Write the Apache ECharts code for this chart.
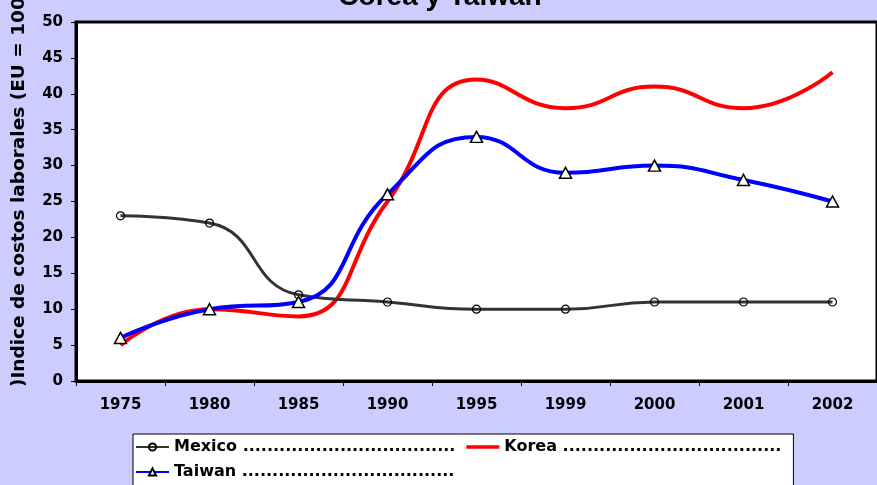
<!DOCTYPE html>
<html>
<head>
<meta charset="utf-8">
<script src="https://cdn.jsdelivr.net/npm/echarts@6/dist/echarts.min.js"></script>
<style>
html,body{margin:0;padding:0;background:#ccccff;}
#chart{width:877px;height:485px;}
</style>
</head>
<body>
<div id="chart"></div>
<script>
const years = ['1975','1980','1985','1990','1995','1999','2000','2001','2002'];
const mexico = [23, 22, 12, 11, 10, 10, 11, 11, 11];
const korea  = [5, 10, 9, 25, 42, 38, 41, 38, 43];
const taiwan = [6, 10, 11, 26, 34, 29, 30, 28, 25];
const names = [
  'Mexico ...................................',
  'Korea ....................................',
  'Taiwan ...................................'
];
const titleText = 'Corea y Taiwan';
const yTitle = ')Indice de costos laborales (EU = 100)';

const chart = echarts.init(document.getElementById('chart'));
const bold = {fontFamily:'DejaVu Sans', fontWeight:'bold', color:'#000'};
chart.setOption({
  backgroundColor:'#ccccff',
  animation:false,
  graphic:[
    {type:'text', x:440, y:-3, style:{text:titleText, font:'bold 28px "Liberation Sans"', fill:'#000', textAlign:'center', textVerticalAlign:'middle'}},
    {type:'text', x:19, y:387, rotation:Math.PI/2, style:{text:yTitle, font:'bold 18.5px "DejaVu Sans"', fill:'#000', textAlign:'left', textVerticalAlign:'middle'}}
  ],
  grid:{left:76, top:22, right:-5, bottom:104, show:true, backgroundColor:'#fff', borderColor:'#000', borderWidth:3},
  legend:{
    left:133, top:434, width:664, orient:'horizontal',
    itemWidth:33, itemHeight:9, itemGap:9,
    padding:[5,10,10,2],
    backgroundColor:'#fff', borderColor:'#000', borderWidth:1,
    textStyle:Object.assign({fontSize:16, lineHeight:16, padding:[0,2,0,0]}, bold),
    data:[
      {name:names[0]},
      {name:names[1], icon:'path://M0,0h33v3.5h-33z', itemStyle:{color:'#ff0000'}},
      {name:names[2]}
    ]
  },
  xAxis:{
    type:'category', data:years, boundaryGap:true,
    axisLine:{lineStyle:{color:'#000', width:3}},
    axisTick:{show:true, length:5, lineStyle:{color:'#000', width:1}},
    axisLabel:Object.assign({fontSize:15, margin:17}, bold),
    splitLine:{show:false}
  },
  yAxis:{
    type:'value', min:0, max:50, interval:5,
    axisLine:{show:true, lineStyle:{color:'#000', width:3}},
    axisTick:{show:true, length:5, lineStyle:{color:'#000', width:1}},
    axisLabel:Object.assign({fontSize:15, margin:13}, bold),
    splitLine:{show:false}
  },
  series:[
    {name:names[0], type:'line', data:mexico, smooth:true, symbol:'circle', symbolSize:8,
     lineStyle:{color:'#333333', width:3},
     itemStyle:{color:'rgba(255,255,255,0)', borderColor:'#000', borderWidth:1.2}, z:3},
    {name:names[1], type:'line', data:korea, smooth:true, symbol:'none', showSymbol:false,
     lineStyle:{color:'#ff0000', width:4}, itemStyle:{color:'#ff0000'}, z:2},
    {name:names[2], type:'line', data:taiwan, smooth:true, symbol:'triangle', symbolSize:[12,11],
     lineStyle:{color:'#0000ff', width:4},
     itemStyle:{color:'#fff', borderColor:'#000', borderWidth:1.5}, z:4}
  ]
});
</script>
</body>
</html>
